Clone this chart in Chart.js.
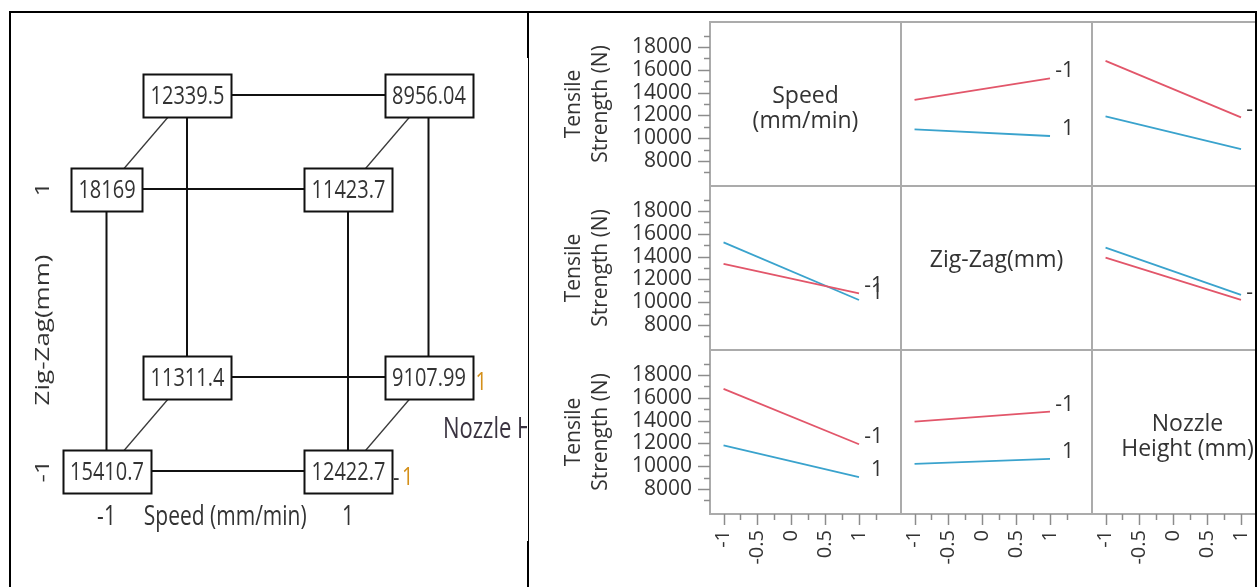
<!DOCTYPE html>
<html><head><meta charset="utf-8">
<script src="https://cdn.jsdelivr.net/npm/chart.js@4.4.1/dist/chart.umd.min.js"></script>
<style>
html,body{margin:0;padding:0;background:#fff;}
body{width:1257px;height:587px;position:relative;overflow:hidden;}
canvas{position:absolute;}
.rule{position:absolute;background:#000;z-index:5;}
.mask{position:absolute;background:#fff;z-index:4;}
</style></head><body>
<div class="rule" style="left:9px;top:11px;width:1248px;height:2px"></div>
<div class="rule" style="left:9px;top:11px;width:2px;height:576px"></div>
<div class="rule" style="left:527px;top:11px;width:2px;height:47px"></div>
<div class="rule" style="left:528px;top:58px;width:1px;height:483px"></div>
<div class="rule" style="left:527px;top:541px;width:2px;height:46px"></div>
<div class="mask" style="left:1257px;top:0;width:60px;height:587px"></div>
<div class="rule" style="left:1255px;top:11px;width:2px;height:576px"></div>
<script>
// ---------------- DATA ----------------
const factorNames = ['Speed (mm/min)', 'Zig-Zag(mm)', 'Nozzle Height (mm)'];
const cellLabelLines = [['Speed', '(mm/min)'], ['Zig-Zag(mm)'], ['Nozzle', 'Height (mm)']];
const levels = [-1, 1];
const levelLabels = ['-1', '1'];
const yTitle = ['Tensile', 'Strength (N)'];
const yTickLabels = [8000, 10000, 12000, 14000, 16000, 18000];
const yMinorTicks = [7000, 9000, 11000, 13000, 15000, 17000, 19000];
const xTickLabels = [-1, -0.5, 0, 0.5, 1];
const xMinorTicks = [-0.75, -0.25, 0.25, 0.75, 1.25];

// cube plot corners (Speed, Zig-Zag, Nozzle Height) and response
const cubeSpeed    = [-1, 1, -1, 1, -1, 1, -1, 1];
const cubeZigZag   = [-1, -1, 1, 1, -1, -1, 1, 1];
const cubeNozzle   = [-1, -1, -1, -1, 1, 1, 1, 1];
const cubeStrength = [15410.7, 12422.7, 18169, 11423.7, 11311.4, 9107.99, 12339.5, 8956.04];

// interaction plot series: values at x = -1 and x = 1
const speedLow_byZigZag   = [13361.05, 15254.25];
const speedHigh_byZigZag  = [10765.35, 10189.87];
const speedLow_byNozzle   = [16789.85, 11825.45];
const speedHigh_byNozzle  = [11923.20, 9032.02];
const zigzagLow_bySpeed   = [13361.05, 10765.35];
const zigzagHigh_bySpeed  = [15254.25, 10189.87];
const zigzagLow_byNozzle  = [13916.70, 10209.70];
const zigzagHigh_byNozzle = [14796.35, 10647.77];
const nozzleLow_bySpeed   = [16789.85, 11923.20];
const nozzleHigh_bySpeed  = [11825.45, 9032.02];
const nozzleLow_byZigZag  = [13916.70, 14796.35];
const nozzleHigh_byZigZag = [10209.70, 10647.77];

// ---------------- STYLE / LAYOUT ----------------
const FONT = '"Open Sans", "Noto Sans", sans-serif';
Chart.defaults.font.family = FONT;
const TEXT = '#333333';
const lineColors = ['#e2566a', '#3aa3cd'];
const cellSeries = {
  '0,1': [speedLow_byZigZag, speedHigh_byZigZag],
  '0,2': [speedLow_byNozzle, speedHigh_byNozzle],
  '1,0': [zigzagLow_bySpeed, zigzagHigh_bySpeed],
  '1,2': [zigzagLow_byNozzle, zigzagHigh_byNozzle],
  '2,0': [nozzleLow_bySpeed, nozzleHigh_bySpeed],
  '2,1': [nozzleLow_byZigZag, nozzleHigh_byZigZag]
};
const COL_X = [710, 901, 1092, 1283];
const ROW_Y = [22, 186, 350, 514];
const AXIS_W = 160, AXIS_H = 73, M = 2;
const X_MIN = -1.2, X_MAX = 1.62, Y_MIN = 5800, Y_MAX = 20200;

function zeroPad(s) { s.paddingLeft = 0; s.paddingRight = 0; s.paddingTop = 0; s.paddingBottom = 0; }

const cellPlugin = {
  id: 'cell',
  afterDraw(chart, args, opts) {
    const {ctx, chartArea: a, scales: {x, y}} = chart;
    const r = opts.r, c = opts.c;
    ctx.save();
    // frame
    ctx.strokeStyle = '#ababab'; ctx.lineWidth = 2;
    ctx.strokeRect(a.left, a.top, a.right - a.left, a.bottom - a.top);
    // ticks
    ctx.strokeStyle = '#8c8c8c'; ctx.lineWidth = 1.5;
    if (c === 0) {
      yTickLabels.forEach(v => { const p = Math.round(y.getPixelForValue(v)) + 0.5; ctx.beginPath(); ctx.moveTo(a.left - 12, p); ctx.lineTo(a.left, p); ctx.stroke(); });
      yMinorTicks.forEach(v => { const p = Math.round(y.getPixelForValue(v)) + 0.5; ctx.beginPath(); ctx.moveTo(a.left - 6, p); ctx.lineTo(a.left, p); ctx.stroke(); });
    }
    if (r === 2) {
      xTickLabels.forEach(v => { const p = Math.round(x.getPixelForValue(v)) + 0.5; ctx.beginPath(); ctx.moveTo(p, a.bottom); ctx.lineTo(p, a.bottom + 11); ctx.stroke(); });
      xMinorTicks.forEach(v => { const p = Math.round(x.getPixelForValue(v)) + 0.5; ctx.beginPath(); ctx.moveTo(p, a.bottom); ctx.lineTo(p, a.bottom + 6); ctx.stroke(); });
    }
    ctx.fillStyle = TEXT;
    if (r === c) {
      ctx.font = '23px ' + FONT; ctx.textAlign = 'center'; ctx.textBaseline = 'middle';
      const cx = (a.left + a.right) / 2, cy = (a.top + a.bottom) / 2;
      cellLabelLines[r].forEach((t, i) => ctx.fillText(t, cx, cy - 7.5 + i * 25));
    } else {
      ctx.font = '21px ' + FONT; ctx.textAlign = 'right'; ctx.textBaseline = 'middle';
      chart.data.datasets.forEach((ds, k) => {
        const last = ds.data[ds.data.length - 1];
        ctx.fillText(levelLabels[k], x.getPixelForValue(last.x) + 24, y.getPixelForValue(last.y) - 7);
      });
    }
    ctx.restore();
  }
};

function makeCell(r, c) {
  const showY = c === 0, showX = r === 2;
  const cw = COL_X[c + 1] - COL_X[c], ch = ROW_Y[r + 1] - ROW_Y[r];
  const cv = document.createElement('canvas');
  cv.width = cw + (showY ? AXIS_W : 0) + 2 * M;
  cv.height = ch + (showX ? AXIS_H : 0) + 2 * M;
  cv.style.left = (COL_X[c] - (showY ? AXIS_W : 0) - M) + 'px';
  cv.style.top = (ROW_Y[r] - M) + 'px';
  document.body.appendChild(cv);
  const series = cellSeries[r + ',' + c] || [];
  const datasets = series.map((vals, k) => ({
    data: levels.map((lv, i) => ({x: lv, y: vals[i]})),
    borderColor: lineColors[k], borderWidth: 1.8, pointRadius: 0, showLine: true, fill: false
  }));
  new Chart(cv, {
    type: 'scatter',
    data: {datasets},
    options: {
      responsive: false, animation: false, devicePixelRatio: 1,
      layout: {padding: M},
      events: [],
      plugins: {legend: {display: false}, tooltip: {enabled: false}, cell: {r, c}},
      scales: {
        x: {
          type: 'linear', position: 'bottom', display: showX, min: X_MIN, max: X_MAX,
          afterBuildTicks: s => { s.ticks = xTickLabels.map(v => ({value: v})); },
          afterFit: s => { if (showX) { s.height = AXIS_H; zeroPad(s); } },
          grid: {drawOnChartArea: false, color: 'rgba(0,0,0,0)', tickLength: 11},
          border: {display: false},
          ticks: {autoSkip: false, minRotation: 90, maxRotation: 90, padding: 5,
                  font: {size: 20}, color: TEXT, callback: v => String(v)}
        },
        y: {
          type: 'linear', position: 'left', display: showY, min: Y_MIN, max: Y_MAX,
          afterBuildTicks: s => { s.ticks = yTickLabels.map(v => ({value: v})); },
          afterFit: s => { if (showY) { s.width = AXIS_W; zeroPad(s); } },
          grid: {drawOnChartArea: false, color: 'rgba(0,0,0,0)', tickLength: 13},
          border: {display: false},
          ticks: {autoSkip: false, padding: 5, font: {size: 21}, color: TEXT, callback: v => String(v)},
          title: {display: true, text: yTitle, color: TEXT, font: {size: 21, lineHeight: 1.3}, padding: {top: 10, bottom: 0}}
        }
      }
    },
    plugins: [cellPlugin]
  });
}
for (let r = 0; r < 3; r++) for (let c = 0; c < 3; c++) makeCell(r, c);

// ---------------- CUBE PLOT ----------------
const CUBE_STRETCH = 1.3;
const DEPTH = 1 / 3;
const projX = i => cubeSpeed[i] + DEPTH * (cubeNozzle[i] + 1);
const projY = i => cubeZigZag[i] + DEPTH * (cubeNozzle[i] + 1);

function drawStretched(ctx, text, x, y, align, color, rot) {
  ctx.save(); ctx.translate(x, y); ctx.scale(1, CUBE_STRETCH); if (rot) ctx.rotate(rot);
  ctx.fillStyle = color; ctx.textAlign = align; ctx.textBaseline = 'middle';
  ctx.fillText(text, 0, 0); ctx.restore();
}

const edges = [];
for (let i = 0; i < 8; i++) for (let j = i + 1; j < 8; j++) {
  const dS = cubeSpeed[i] !== cubeSpeed[j], dZ = cubeZigZag[i] !== cubeZigZag[j], dN = cubeNozzle[i] !== cubeNozzle[j];
  if ((dS + dZ + dN) === 1) edges.push({i, j, depth: dN});
}
const cubeDatasets = edges.map(e => ({
  data: [{x: projX(e.i), y: projY(e.i)}, {x: projX(e.j), y: projY(e.j)}],
  showLine: true, pointRadius: 0, borderColor: e.depth ? '#3a3a3a' : '#111111', borderWidth: e.depth ? 1.3 : 2
}));

const cubePlugin = {
  id: 'cube',
  afterDatasetsDraw(chart) {
    const {ctx, scales: {x, y}} = chart;
    ctx.save();
    ctx.font = '20px ' + FONT;
    cubeStrength.forEach((v, i) => {
      const px = x.getPixelForValue(projX(i)), py = y.getPixelForValue(projY(i));
      const label = String(v);
      const w = Math.round(ctx.measureText(label).width + 14), h = 43;
      const bx = Math.round(px - w / 2) + 0.5, by = Math.round(py - h / 2 + 1) + 0.5;
      ctx.fillStyle = '#fff'; ctx.fillRect(bx, by, w, h);
      ctx.strokeStyle = '#111'; ctx.lineWidth = 2; ctx.strokeRect(bx, by, w, h);
      drawStretched(ctx, label, px + 0.5, py + 1.5, 'center', TEXT);
    });
    // Speed axis
    const xL = x.getPixelForValue(-1), xR = x.getPixelForValue(1);
    const yBot = y.getPixelForValue(-1), yTop = y.getPixelForValue(1);
    ctx.font = '21px ' + FONT;
    drawStretched(ctx, levelLabels[0], xL, yBot + 46, 'center', TEXT);
    drawStretched(ctx, levelLabels[1], xR, yBot + 46, 'center', TEXT);
    drawStretched(ctx, factorNames[0], (xL + xR) / 2 - 2, yBot + 46, 'center', TEXT);
    // Zig-Zag axis
    ctx.font = '20px ' + FONT;
    drawStretched(ctx, levelLabels[1], xL - 63.5, yTop, 'center', TEXT, -Math.PI / 2);
    drawStretched(ctx, levelLabels[0], xL - 63.5, yBot, 'center', TEXT, -Math.PI / 2);
    drawStretched(ctx, factorNames[1], xL - 63.5, (yTop + yBot) / 2, 'center', TEXT, -Math.PI / 2);
    // Nozzle axis
    const orange = '#d4901a';
    const backX = x.getPixelForValue(1 + 2 * DEPTH), backY = y.getPixelForValue(-1 + 2 * DEPTH);
    drawStretched(ctx, '1', backX + 47, backY + 6, 'left', orange);
    drawStretched(ctx, '-', xR + 45, yBot + 8, 'left', TEXT);
    drawStretched(ctx, '1', xR + 54, yBot + 7, 'left', orange);
    ctx.font = '22px ' + FONT;
    drawStretched(ctx, factorNames[2], xR + 95, yBot - 41, 'left', '#3a3340');
    ctx.restore();
  }
};

(function () {
  const cv = document.createElement('canvas');
  cv.width = 516; cv.height = 574;
  cv.style.left = '11px'; cv.style.top = '13px';
  document.body.appendChild(cv);
  new Chart(cv, {
    type: 'scatter',
    data: {datasets: cubeDatasets},
    options: {
      responsive: false, animation: false, devicePixelRatio: 1, events: [],
      layout: {padding: 0},
      plugins: {legend: {display: false}, tooltip: {enabled: false}},
      scales: {
        x: {type: 'linear', display: false, min: -1.7909, max: 2.4824},
        y: {type: 'linear', display: false, min: -1.8227, max: 2.2482}
      }
    },
    plugins: [cubePlugin]
  });
})();
</script>
</body></html>
